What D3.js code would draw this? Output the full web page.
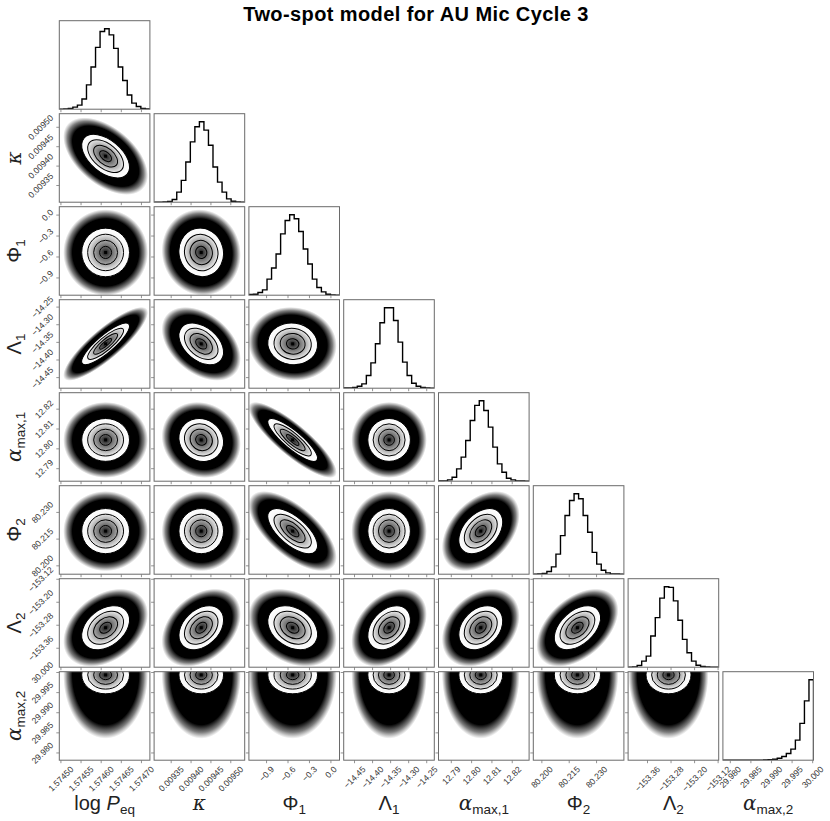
<!DOCTYPE html>
<html>
<head>
<meta charset="utf-8">
<script src="https://cdn.jsdelivr.net/npm/d3@7"></script>
<style>
body { margin: 0; background: #fff; }
svg { display: block; }
</style>
</head>
<body>
<script>
var W = 830, H = 821;

// layout of the corner grid
var left0 = 59.3, top0 = 20.7;
var colStep = 94.8, rowStep = 93;
var pw = 90.6, ph = 88.5;

// parameters (order of rows / columns)
var labelBase = ["log ", "κ", "Φ", "Λ", "α", "Φ", "Λ", "α"];
var labelItalic = ["P", "", "", "", "", "", "", ""];
var labelSub = ["eq", "", "1", "1", "max,1", "2", "2", "max,2"];

// axis ranges
var ranges = [
  [1.574496, 1.574721],
  [0.009307, 0.009535],
  [-1.147, 0.12],
  [-14.480, -14.229],
  [12.7837, 12.8283],
  [80.1953, 80.245],
  [-153.426, -153.118],
  [29.9782, 30.0002]
];

var ticks = [
  [1.57450, 1.57455, 1.57460, 1.57465, 1.57470],
  [0.00935, 0.00940, 0.00945, 0.00950],
  [-0.9, -0.6, -0.3, 0.0],
  [-14.45, -14.40, -14.35, -14.30, -14.25],
  [12.79, 12.80, 12.81, 12.82],
  [80.200, 80.215, 80.230],
  [-153.36, -153.28, -153.20, -153.12],
  [29.980, 29.985, 29.990, 29.995, 30.000]
];
var tickDecimals = [5, 5, 1, 2, 2, 3, 2, 3];

// posterior centre and spread of each parameter
var means = [1.574611, 0.0094256, -0.535, -14.3542, 12.8045, 80.2195, -153.2886, 29.9994];
var sds = [2.97e-5, 2.81e-5, 0.174, 0.0295, 0.0054, 0.00634, 0.0383, 0.00235];
// how far the scattered samples reach compared with the contours (alpha_max,2 has a long tail)
var cloudStretch = [1, 1, 1, 1, 1, 1, 1, 1.9];

// 20-bin histograms (relative counts)
var hist0 = [0, 1, 2, 6, 12, 30, 72, 125, 183, 230, 238, 220, 180, 125, 85, 42, 18, 8, 2, 0.5];
var hist1 = [0, 0, 0.5, 2, 8, 30, 65, 120, 180, 225, 240, 215, 170, 105, 60, 30, 10, 3, 1, 0];
var hist2 = [2, 3, 8, 16, 48, 81, 123, 183, 223, 240, 228, 190, 138, 93, 48, 23, 10, 3, 1, 0];
var hist3 = [0.5, 1, 2, 6, 13, 38, 76, 133, 196, 241, 241, 203, 138, 78, 38, 15, 6, 2, 1, 0];
var hist4 = [0.5, 1, 4, 12, 37, 72, 122, 182, 227, 241, 212, 162, 102, 52, 27, 9, 4, 1, 0.5, 0];
var hist5 = [0, 0.5, 2, 8, 22, 60, 115, 175, 220, 240, 225, 175, 125, 65, 30, 12, 4, 1, 0.5, 0];
var hist6 = [0, 1, 5, 18, 33, 93, 148, 206, 240, 238, 198, 140, 83, 43, 18, 6, 2, 0.5, 0, 0];
var hist7 = [0, 0, 0, 0, 0, 0, 0, 0, 0.3, 0.6, 1.2, 3, 6, 11, 20, 33, 60, 110, 177, 240];
var hists = [hist0, hist1, hist2, hist3, hist4, hist5, hist6, hist7];

// correlation of row parameter i with column parameter j (j < i)
var corr = [
  [],
  [-0.5],
  [0.0, -0.05],
  [0.85, -0.4, -0.05],
  [0.0, -0.1, -0.85, 0.0],
  [0.0, 0.0, -0.65, 0.0, 0.4],
  [0.35, 0.35, -0.3, 0.35, 0.3, 0.45],
  [0, 0, 0, 0, 0, 0, 0]
];

var n = labelBase.length;

var svg = d3.select("body").append("svg")
  .attr("width", W)
  .attr("height", H)
  .style("font-family", "'Liberation Sans', Arial, sans-serif");

var defs = svg.append("defs");

// cloud of samples: solid black fading out at the edge
var cloudGrad = defs.append("radialGradient").attr("id", "cloud");
cloudGrad.append("stop").attr("offset", 0).attr("stop-color", "#000").attr("stop-opacity", 1);
cloudGrad.append("stop").attr("offset", 0.78).attr("stop-color", "#000").attr("stop-opacity", 1);
cloudGrad.append("stop").attr("offset", 0.9).attr("stop-color", "#111").attr("stop-opacity", 0.55);
cloudGrad.append("stop").attr("offset", 1).attr("stop-color", "#333").attr("stop-opacity", 0);

// density inside the outer contour
var dens = defs.append("radialGradient").attr("id", "dens");
[[0, "#1a1a1a"], [0.1, "#383838"], [0.25, "#686868"], [0.5, "#a8a8a8"], [0.7, "#dcdcdc"], [0.8, "#f8f8f8"], [1, "#ffffff"]]
  .forEach(function (s) { dens.append("stop").attr("offset", s[0]).attr("stop-color", s[1]); });

function xs(j) { return d3.scaleLinear().domain(ranges[j]).range([0, pw]); }
function ys(i) { return d3.scaleLinear().domain(ranges[i]).range([ph, 0]); }

function fmt(j) { return d3.format("." + tickDecimals[j] + "f"); }

// ellipse in pixel space for a bivariate normal
function ellipse(sx, sy, rho) {
  var a = sx * sx, c = sy * sy, b = -rho * sx * sy; // pixel y points down
  var m = (a + c) / 2, d = Math.sqrt((a - c) * (a - c) / 4 + b * b);
  var l1 = m + d, l2 = Math.max(m - d, 1e-9);
  var th = 0.5 * Math.atan2(2 * b, a - c) * 180 / Math.PI;
  return { rx: Math.sqrt(l1), ry: Math.sqrt(l2), angle: th };
}

for (var i = 0; i < n; i++) {
  for (var j = 0; j <= i; j++) {
    var px = left0 + j * colStep, py = top0 + i * rowStep;
    var g = svg.append("g").attr("transform", "translate(" + px + "," + py + ")");
    var clipId = "clip" + i + "_" + j;
    defs.append("clipPath").attr("id", clipId)
      .append("rect").attr("width", pw).attr("height", ph);
    var inner = g.append("g").attr("clip-path", "url(#" + clipId + ")");
    var x = xs(j);

    if (i === j) {
      // histogram as a step outline
      var h = hists[i];
      var lo = ranges[i][0], hi = ranges[i][1];
      var edges = d3.range(h.length + 1).map(function (k) { return lo + k * (hi - lo) / h.length; });
      var hy = d3.scaleLinear().domain([0, 1.1 * d3.max(h)]).range([ph, 0]);
      var pts = [[edges[0], 0]];
      h.forEach(function (v, k) { pts.push([edges[k], v]); pts.push([edges[k + 1], v]); });
      pts.push([edges[h.length], 0]);
      inner.append("path")
        .attr("d", d3.line().x(function (d) { return x(d[0]); }).y(function (d) { return hy(d[1]); })(pts))
        .attr("fill", "none")
        .attr("stroke", "#000")
        .attr("stroke-width", 1.4)
        .attr("stroke-linejoin", "miter");
    } else {
      var y = ys(i);
      var sx = sds[j] * Math.abs(x(1) - x(0));
      var sy = sds[i] * Math.abs(y(1) - y(0));
      var rho = corr[i][j];
      var cx = x(means[j]), cy = y(means[i]);
      var eg = inner.append("g").attr("transform", "translate(" + cx + "," + cy + ")");

      var ec = ellipse(sx, sy * cloudStretch[i], rho);
      eg.append("ellipse")
        .attr("rx", ec.rx * 3.55).attr("ry", ec.ry * 3.55)
        .attr("transform", "rotate(" + ec.angle + ")")
        .attr("fill", "url(#cloud)");

      var e = ellipse(sx, sy, rho);
      eg.append("ellipse")
        .attr("rx", e.rx * 2).attr("ry", e.ry * 2)
        .attr("transform", "rotate(" + e.angle + ")")
        .attr("fill", "url(#dens)");
      [2, 1.5, 1, 0.5].forEach(function (r) {
        eg.append("ellipse")
          .attr("rx", e.rx * r).attr("ry", e.ry * r)
          .attr("transform", "rotate(" + e.angle + ")")
          .attr("fill", "none")
          .attr("stroke", "#000")
          .attr("stroke-width", 1);
      });
      eg.append("rect")
        .attr("x", -1.5).attr("y", -1.5).attr("width", 3).attr("height", 3)
        .attr("fill", "#000");
    }

    // frame
    g.append("rect").attr("width", pw).attr("height", ph)
      .attr("fill", "none").attr("stroke", "#6a6a6a").attr("stroke-width", 1);

    // x ticks on every panel
    ticks[j].forEach(function (t) {
      g.append("line").attr("x1", x(t)).attr("x2", x(t)).attr("y1", ph).attr("y2", ph + 3)
        .attr("stroke", "#777").attr("stroke-width", 0.8);
    });
    if (i !== j) {
      var yy = ys(i);
      ticks[i].forEach(function (t) {
        g.append("line").attr("x1", -3).attr("x2", 0).attr("y1", yy(t)).attr("y2", yy(t))
          .attr("stroke", "#777").attr("stroke-width", 0.8);
      });
    }

    // tick labels on the bottom row
    if (i === n - 1) {
      ticks[j].forEach(function (t) {
        var tx = g.append("text").text(fmt(j)(t))
          .attr("font-size", 8.6).attr("fill", "#333")
          .attr("text-anchor", "middle").attr("dominant-baseline", "central");
        var L = tx.node().getComputedTextLength(), hh = 7.5;
        var half = (L + hh) / Math.SQRT2 / 2;
        tx.attr("transform", "translate(" + x(t) + "," + (ph + 5 + half) + ") rotate(-45)");
      });
    }
    // tick labels on the left column
    if (j === 0 && i > 0) {
      var yl = ys(i);
      ticks[i].forEach(function (t) {
        var tx = g.append("text").text(fmt(i)(t))
          .attr("font-size", 8.6).attr("fill", "#333")
          .attr("text-anchor", "middle").attr("dominant-baseline", "central");
        var L = tx.node().getComputedTextLength(), hh = 7.5;
        var half = (L + hh) / Math.SQRT2 / 2;
        tx.attr("transform", "translate(" + (-5 - half) + "," + yl(t) + ") rotate(-45)");
      });
    }
  }
}

// axis labels
function addLabel(sel, k) {
  var isGreekItalic = (labelBase[k] === "κ" || labelBase[k] === "α");
  sel.append("tspan").text(labelBase[k])
    .style("font-family", isGreekItalic ? "'DejaVu Serif', serif" : null)
    .style("font-style", isGreekItalic ? "italic" : null);
  if (labelItalic[k]) sel.append("tspan").text(labelItalic[k]).style("font-style", "italic");
  if (labelSub[k]) sel.append("tspan").text(labelSub[k]).attr("font-size", 13.5).attr("dy", 4);
}

for (var k = 0; k < n; k++) {
  var tl = svg.append("text")
    .attr("x", left0 + k * colStep + pw / 2)
    .attr("y", 810)
    .attr("text-anchor", "middle")
    .attr("font-size", 20)
    .attr("fill", "#222");
  addLabel(tl, k);
  if (k > 0) {
    var yl2 = svg.append("text")
      .attr("transform", "translate(21," + (top0 + k * rowStep + ph / 2) + ") rotate(-90)")
      .attr("text-anchor", "middle")
      .attr("font-size", 20)
      .attr("fill", "#222");
    addLabel(yl2, k);
  }
}

svg.append("text")
  .attr("x", 416)
  .attr("y", 21)
  .attr("text-anchor", "middle")
  .attr("font-size", 20)
  .attr("letter-spacing", 0.4)
  .attr("font-weight", "bold")
  .text("Two-spot model for AU Mic Cycle 3");
</script>
</body>
</html>
